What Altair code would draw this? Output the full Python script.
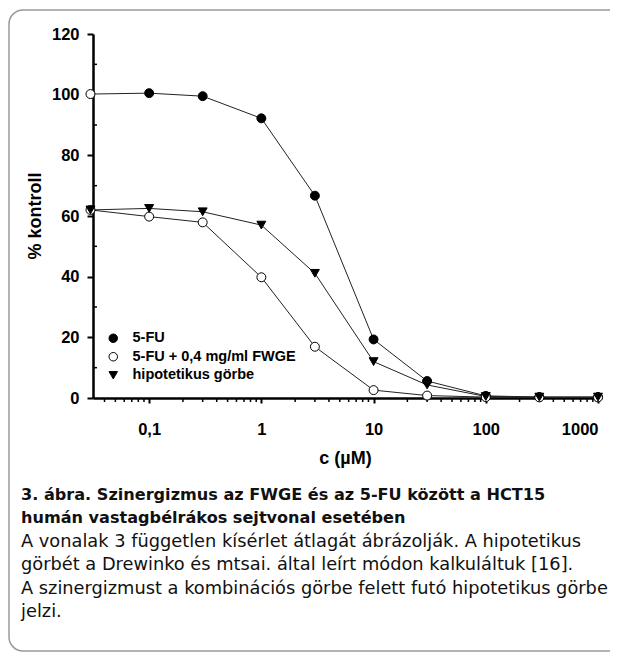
import altair as alt
import pandas as pd

# ---- data ----
conc = [0.03, 0.1, 0.3, 1, 3, 10, 30, 100, 300, 1000]
fu = [100.2, 100.5, 99.5, 92.2, 66.7, 19.3, 5.6, 0.7, 0.3, 0.3]
combo = [62.0, 59.8, 57.9, 39.8, 16.9, 2.6, 0.8, 0.3, 0.2, 0.2]
hypo = [62.0, 62.5, 61.4, 57.0, 41.1, 12.0, 4.3, 0.5, 0.3, 0.3]
series_names = ["5-FU", "5-FU + 0,4 mg/ml FWGE", "hipotetikus görbe"]

x_major = [0.1, 1, 10, 100, 1000]
x_minor = [0.04, 0.05, 0.06, 0.07, 0.08, 0.09,
           0.2, 0.3, 0.4, 0.5, 0.6, 0.7, 0.8, 0.9,
           2, 3, 4, 5, 6, 7, 8, 9,
           20, 30, 40, 50, 60, 70, 80, 90,
           200, 300, 400, 500, 600, 700, 800, 900]
y_major = [0, 20, 40, 60, 80, 100, 120]
y_minor = [10, 30, 50, 70, 90, 110]

x_title = "c (µM)"
y_title = "% kontroll"
caption_bold = [
    "3. ábra. Szinergizmus az FWGE és az 5-FU között a HCT15",
    "humán vastagbélrákos sejtvonal esetében",
]
caption_regular = [
    "A vonalak 3 független kísérlet átlagát ábrázolják. A hipotetikus",
    "görbét a Drewinko és mtsai. által leírt módon kalkuláltuk [16].",
    "A szinergizmust a kombinációs görbe felett futó hipotetikus görbe",
    "jelzi.",
]

rows = []
for name, vals in zip(series_names, [fu, combo, hypo]):
    for c, v in zip(conc, vals):
        rows.append({"series": name, "c": c, "v": v})
df = pd.DataFrame(rows)

AX_FONT = "Liberation Sans"
CAP_FONT = "DejaVu Sans"

W, H = 505, 364

xscale = alt.Scale(type="log", domain=[0.0316, 1000], nice=False)
yscale = alt.Scale(domain=[0, 120], nice=False, zero=True)

x_axis = alt.Axis(values=x_major, title=None, grid=False,
                  labelExpr="replace(format(datum.value, '~g'), '.', ',')",
                  tickSize=5, tickWidth=2, tickColor="black",
                  domainWidth=2.5, domainColor="black",
                  labelFont=AX_FONT, labelFontWeight="bold", labelFontSize=16.5,
                  labelColor="black", labelPadding=18)
y_axis = alt.Axis(values=y_major, title=None, grid=False,
                  tickSize=6, tickWidth=2, tickColor="black",
                  domainWidth=2.5, domainColor="black",
                  labelFont=AX_FONT, labelFontWeight="bold", labelFontSize=16.5,
                  labelColor="black", labelPadding=8)

X = alt.X("c:Q", scale=xscale, axis=x_axis)
Y = alt.Y("v:Q", scale=yscale, axis=y_axis)

base = alt.Chart(df)

lines = base.mark_line(color="#222222", strokeWidth=1).encode(
    x=X, y=Y, detail="series:N"
)

legend = alt.Legend(title=None, orient="none", legendX=13, legendY=297,
                    padding=0, labelFont=AX_FONT, labelFontSize=14.5,
                    labelFontWeight="bold", labelColor="black", labelLimit=0,
                    symbolSize=72, symbolStrokeColor="black",
                    symbolStrokeWidth=1, rowPadding=3.5, labelOffset=12)

fill_scale = alt.Scale(domain=series_names, range=["black", "white", "black"])
shape_scale = alt.Scale(domain=series_names,
                        range=["circle", "circle", "triangle-down"])
stroke_scale = alt.Scale(domain=series_names,
                         range=["black", "black", "black"])

points = base.mark_point(filled=True, opacity=1, size=80,
                         strokeWidth=1).encode(
    x=X, y=Y,
    shape=alt.Shape("series:N", scale=shape_scale, legend=legend,
                    sort=series_names),
    stroke=alt.Stroke("series:N", scale=stroke_scale, legend=legend,
                      sort=series_names),
    fill=alt.condition(f"datum.series === '5-FU' && datum.c === {conc[0]}",
                       alt.value("white"),
                       alt.Fill("series:N", scale=fill_scale, legend=legend,
                                sort=series_names)),
)

xminor = alt.Chart(pd.DataFrame({"c": x_minor})).mark_rule(
    color="black", strokeWidth=1.5).encode(
    x=X, y=alt.value(H), y2=alt.value(H + 4),
)
yminor = alt.Chart(pd.DataFrame({"v": y_minor})).mark_rule(
    color="black", strokeWidth=1.5).encode(
    y=Y, x=alt.value(0), x2=alt.value(4),
)

one = alt.Data(values=[{}])

frame = alt.Chart(one).mark_rect(
    fill="white", fillOpacity=0, stroke="#9a9a9a", strokeWidth=1.5,
    cornerRadius=14).encode(
    x=alt.value(-84), x2=alt.value(700), y=alt.value(-24), y2=alt.value(617)
)

ytitle = alt.Chart(one).mark_text(
    font=AX_FONT, fontWeight="bold", fontSize=18, angle=270,
    color="black", baseline="middle", align="center").encode(
    x=alt.value(-57), y=alt.value(H / 2), text=alt.value(y_title))
xtitle = alt.Chart(one).mark_text(
    font=AX_FONT, fontWeight="bold", fontSize=18,
    color="black", baseline="middle", align="center").encode(
    x=alt.value(W / 2), y=alt.value(425), text=alt.value(x_title))

LH = 23.4
cap_bold = alt.Chart(one).mark_text(
    font=CAP_FONT, fontWeight="bold", fontSize=16.1, color="#111111",
    baseline="alphabetic", align="left", lineHeight=LH).encode(
    x=alt.value(-72), y=alt.value(466), text=alt.value(caption_bold))
cap_reg = alt.Chart(one).mark_text(
    font=CAP_FONT, fontWeight="normal", fontSize=17.8, color="#111111",
    baseline="alphabetic", align="left", lineHeight=LH).encode(
    x=alt.value(-72), y=alt.value(466 + 2 * LH), text=alt.value(caption_regular))

chart = alt.layer(frame, xminor, yminor, lines, points, ytitle, xtitle,
                  cap_bold, cap_reg).properties(
    width=W, height=H,
    autosize=alt.AutoSizeParams(type="none"),
    padding={"left": 85, "top": 26, "right": 12, "bottom": 254},
).configure_view(stroke=None)

chart.save("out.html", embed_options={"renderer": "svg", "actions": False})
